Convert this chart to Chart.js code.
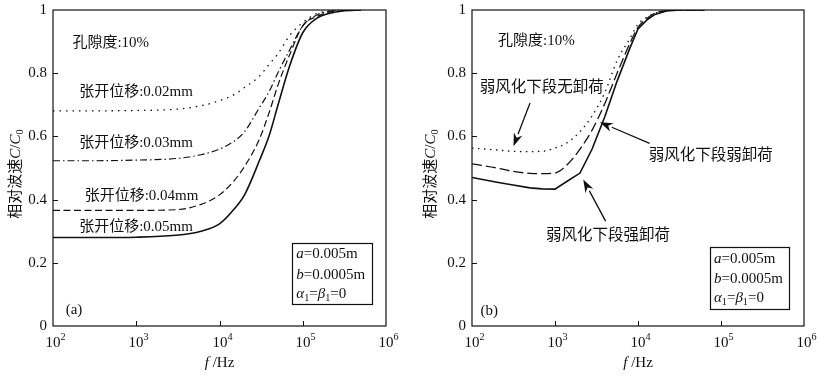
<!DOCTYPE html>
<html>
<head>
<meta charset="utf-8">
<script src="https://cdn.jsdelivr.net/npm/chart.js@4.4.1/dist/chart.umd.min.js"></script>
<style>
  body{margin:0;background:#fff;}
  #wrap{position:relative;width:817px;height:376px;}
  canvas{position:absolute;top:0;}
</style>
</head>
<body>
<div id="wrap">
  <canvas id="chartA" width="408" height="376" style="left:0"></canvas>
  <canvas id="chartB" width="409" height="376" style="left:408px"></canvas>
</div>
<script>
// (a) frequency grid (Hz) and C/C0 per opening displacement
const freqA = [100, 300, 1000, 3000, 6000, 10000, 15000, 20000, 30000, 40000, 50000, 70000, 100000, 150000, 200000, 300000, 500000];
const open002 = [0.681, 0.681, 0.682, 0.686, 0.697, 0.713, 0.732, 0.755, 0.790, 0.830, 0.860, 0.920, 0.960, 0.990, 0.996, 1.000, 1.000];
const open003 = [0.523, 0.523, 0.525, 0.530, 0.542, 0.560, 0.585, 0.615, 0.690, 0.745, 0.800, 0.875, 0.950, 0.985, 0.995, 1.000, 1.000];
const open004 = [0.366, 0.366, 0.366, 0.368, 0.385, 0.415, 0.460, 0.505, 0.590, 0.680, 0.760, 0.860, 0.950, 0.980, 0.992, 0.998, 1.000];
const open005 = [0.280, 0.280, 0.281, 0.287, 0.300, 0.323, 0.370, 0.415, 0.522, 0.607, 0.696, 0.825, 0.928, 0.975, 0.988, 0.997, 1.000];

// (b) frequency grid (Hz) and C/C0 per unloading degree
const freqB = [100, 200, 300, 500, 700, 1000, 1400, 2000, 2800, 4000, 5600, 8000, 10000, 13000, 16000, 22000, 32000, 63000];
const noUnload     = [0.563, 0.557, 0.553, 0.552, 0.553, 0.563, 0.580, 0.615, 0.665, 0.740, 0.840, 0.910, 0.955, 0.978, 0.990, 0.998, 1.000, 1.000];
const weakUnload   = [0.513, 0.500, 0.490, 0.483, 0.482, 0.484, 0.510, 0.560, 0.620, 0.705, 0.800, 0.895, 0.945, 0.975, 0.990, 0.998, 1.000, 1.000];
const strongUnload = [0.470, 0.455, 0.447, 0.437, 0.434, 0.433, 0.458, 0.484, 0.560, 0.664, 0.775, 0.880, 0.940, 0.970, 0.986, 0.997, 1.000, 1.000];

// axis ticks
const yTicks = [0, 0.2, 0.4, 0.6, 0.8, 1];
const yTickLabels = ['0', '0.2', '0.4', '0.6', '0.8', '1'];
const xTicks = [1e2, 1e3, 1e4, 1e5, 1e6];
const xTickExp = ['2', '3', '4', '5', '6'];

const SERIF = '"Liberation Serif", "Times New Roman", "Noto Sans CJK SC", serif';
const INK = '#111';

function pts(xs, ys){ return xs.map((x,i)=>({x:x, y:ys[i]})); }

// draw a run of text pieces: {t, it (italic), sub, sup}
function drawRich(ctx, parts, x, y, size){
  parts.forEach(p=>{
    const s = (p.sub || p.sup) ? size*0.68 : size;
    ctx.font = (p.it ? 'italic ' : '') + s + 'px ' + SERIF;
    const dy = p.sub ? size*0.28 : (p.sup ? -size*0.38 : 0);
    ctx.fillText(p.t, x, y + dy);
    x += ctx.measureText(p.t).width;
  });
  return x;
}
function richWidth(ctx, parts, size){
  let w = 0;
  parts.forEach(p=>{
    const s = (p.sub || p.sup) ? size*0.68 : size;
    ctx.font = (p.it ? 'italic ' : '') + s + 'px ' + SERIF;
    w += ctx.measureText(p.t).width;
  });
  return w;
}

function arrow(ctx, x1, y1, x2, y2){
  const ang = Math.atan2(y2-y1, x2-x1);
  const L = 13, W = 4.5;
  const bx = x2 - L*Math.cos(ang), by = y2 - L*Math.sin(ang);
  ctx.beginPath();
  ctx.moveTo(x1, y1); ctx.lineTo(bx, by);
  ctx.lineWidth = 1.3; ctx.stroke();
  ctx.beginPath();
  ctx.moveTo(x2, y2);
  ctx.lineTo(bx + W*Math.sin(ang), by - W*Math.cos(ang));
  ctx.lineTo(x2 - L*0.7*Math.cos(ang), y2 - L*0.7*Math.sin(ang));
  ctx.lineTo(bx - W*Math.sin(ang), by + W*Math.cos(ang));
  ctx.closePath(); ctx.fill();
}

// frame, inward ticks, tick labels, axis titles and annotations
const decoPlugin = {
  id: 'deco',
  afterDraw(chart, args, o){
    const ctx = chart.ctx, a = chart.chartArea;
    const xs = chart.scales.x, ys = chart.scales.y;
    ctx.save();
    ctx.strokeStyle = INK; ctx.fillStyle = INK;
    ctx.lineWidth = 1.2;
    ctx.strokeRect(a.left, a.top, a.right - a.left, a.bottom - a.top);

    // y ticks
    ctx.lineWidth = 1;
    ctx.textAlign = 'right'; ctx.textBaseline = 'middle';
    ctx.font = '15px ' + SERIF;
    yTicks.forEach((v,i)=>{
      const py = Math.round(ys.getPixelForValue(v)) + 0.5;
      if (i > 0 && i < yTicks.length-1){
        ctx.beginPath(); ctx.moveTo(a.left, py); ctx.lineTo(a.left + 5, py); ctx.stroke();
      }
      ctx.fillText(yTickLabels[i], a.left - 6, py);
    });
    // x ticks
    ctx.textAlign = 'left'; ctx.textBaseline = 'middle';
    xTicks.forEach((v,i)=>{
      const px = Math.round(xs.getPixelForValue(v)) + 0.5;
      if (i > 0 && i < xTicks.length-1){
        ctx.beginPath(); ctx.moveTo(px, a.bottom); ctx.lineTo(px, a.bottom - 5); ctx.stroke();
      }
      const parts = [{t:'10'}, {t:xTickExp[i], sup:true}];
      const w = richWidth(ctx, parts, 15);
      drawRich(ctx, parts, px - w/2 + 2, a.bottom + 17, 15);
    });

    // x title
    const xt = [{t:'f', it:true}, {t:' /Hz'}];
    const xw = richWidth(ctx, xt, 15);
    drawRich(ctx, xt, (a.left + a.right)/2 - xw/2, a.bottom + 37, 15);

    // y title (rotated)
    const yt = [{t:'相对波速'}, {t:'C', it:true}, {t:'/'}, {t:'C', it:true}, {t:'0', sub:true}];
    const yw = richWidth(ctx, yt, 15);
    ctx.save();
    ctx.translate(o.yTitleX, (a.top + a.bottom)/2 + 6);
    ctx.rotate(-Math.PI/2);
    drawRich(ctx, yt, -yw/2, 0, 15);
    ctx.restore();

    // free text
    ctx.textAlign = 'left'; ctx.textBaseline = 'middle';
    o.texts.forEach(t=>{
      ctx.font = t.size + 'px ' + SERIF;
      ctx.fillText(t.text, xs.getPixelForValue(t.x), ys.getPixelForValue(t.y));
    });

    // arrows
    (o.arrows || []).forEach(r=>{
      arrow(ctx, xs.getPixelForValue(r.from[0]), ys.getPixelForValue(r.from[1]),
                 xs.getPixelForValue(r.to[0]), ys.getPixelForValue(r.to[1]));
    });

    // parameter box
    const b = o.box;
    const bx1 = xs.getPixelForValue(b.x1), bx2 = xs.getPixelForValue(b.x2);
    const by1 = ys.getPixelForValue(b.y1), by2 = ys.getPixelForValue(b.y2);
    ctx.lineWidth = 1.2;
    ctx.strokeRect(Math.round(bx1)+0.5, Math.round(by1)+0.5, Math.round(bx2-bx1), Math.round(by2-by1));
    const lines = [
      [{t:'a', it:true}, {t:'=0.005m'}],
      [{t:'b', it:true}, {t:'=0.0005m'}],
      [{t:'α', it:true}, {t:'1', sub:true}, {t:'='}, {t:'β', it:true}, {t:'1', sub:true}, {t:'=0'}]
    ];
    lines.forEach((ln,i)=>{
      drawRich(ctx, ln, bx1 + 4, ys.getPixelForValue(b.lines[i]), 15);
    });
    ctx.restore();
  }
};

function lineSet(data, dash, width, straight){
  const ds = {data: data, borderColor: INK, borderWidth: width, borderDash: dash,
              pointRadius: 0, fill: false};
  if (straight) ds.tension = 0;
  else ds.cubicInterpolationMode = 'monotone';
  return ds;
}

function makeChart(id, datasets, pad, deco){
  return new Chart(document.getElementById(id), {
    type: 'line',
    data: {datasets: datasets},
    options: {
      responsive: false,
      animation: false,
      layout: {padding: pad},
      plugins: {legend: {display: false}, tooltip: {enabled: false}, deco: deco},
      scales: {
        x: {type: 'logarithmic', min: 100, max: 1e6, display: false},
        y: {type: 'linear', min: 0, max: 1, display: false}
      }
    },
    plugins: [decoPlugin]
  });
}

makeChart('chartA', [
  lineSet(pts(freqA, open002), [1.5, 5], 1.3),
  lineSet(pts(freqA, open003), [7, 3, 1.5, 3], 1.2),
  lineSet(pts(freqA, open004), [7, 3.5], 1.2),
  lineSet(pts(freqA, open005), [], 1.6)
], {left: 53, right: 22, top: 10, bottom: 50}, {
  yTitleX: 16,
  texts: [
    {text: '孔隙度:10%', x: 171, y: 0.895, size: 15},
    {text: '张开位移:0.02mm', x: 206, y: 0.741, size: 15},
    {text: '张开位移:0.03mm', x: 206, y: 0.578, size: 15},
    {text: '张开位移:0.04mm', x: 240, y: 0.412, size: 15},
    {text: '张开位移:0.05mm', x: 206, y: 0.314, size: 15},
    {text: '(a)', x: 142, y: 0.05, size: 15}
  ],
  box: {x1: 75000, x2: 680000, y1: 0.264, y2: 0.070, lines: [0.227, 0.161, 0.100]}
});

makeChart('chartB', [
  lineSet(pts(freqB, noUnload), [1.5, 4.5], 1.3),
  lineSet(pts(freqB, weakUnload), [10, 4], 1.3),
  lineSet(pts(freqB, strongUnload), [], 1.6, true)
], {left: 64, right: 13, top: 10, bottom: 50}, {
  yTitleX: 23,
  texts: [
    {text: '孔隙度:10%', x: 206, y: 0.901, size: 15},
    {text: '弱风化下段无卸荷', x: 124, y: 0.752, size: 15.5},
    {text: '弱风化下段弱卸荷', x: 13500, y: 0.537, size: 15.5},
    {text: '弱风化下段强卸荷', x: 781, y: 0.284, size: 15.5},
    {text: '(b)', x: 127, y: 0.047, size: 15}
  ],
  arrows: [
    {from: [500, 0.706], to: [316, 0.569]},
    {from: [13800, 0.578], to: [3470, 0.645]},
    {from: [4070, 0.332], to: [2190, 0.464]}
  ],
  box: {x1: 73600, x2: 667000, y1: 0.249, y2: 0.052, lines: [0.213, 0.150, 0.089]}
});
</script>
</body>
</html>
